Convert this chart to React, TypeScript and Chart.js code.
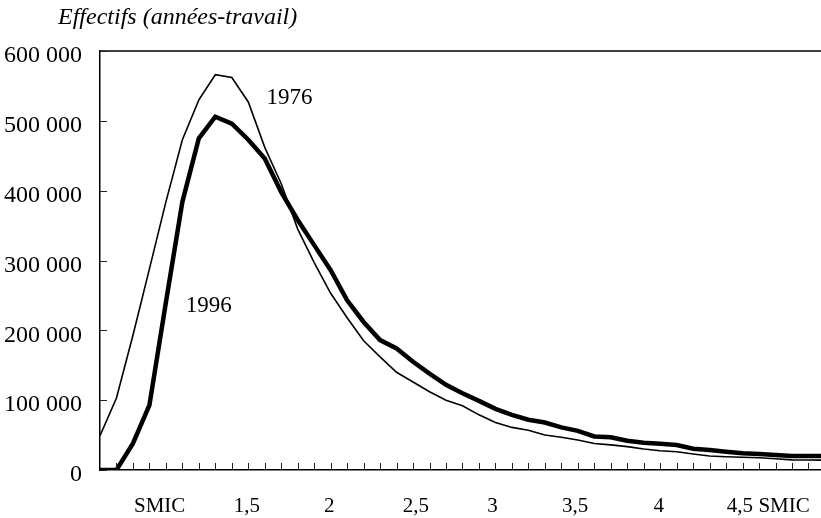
import React, { useEffect, useRef } from "react";
import { Chart, registerables } from "chart.js";

Chart.register(...registerables);

// Salaire en multiples du SMIC : une classe par pas de 0,1 SMIC
const series1976: number[] = [
  49000, 103000, 193000, 288000, 384000, 473000, 530000, 566000, 562000, 527000,
  462000, 410000, 345000, 297000, 253000, 218000, 185000, 162000, 140000, 126000,
  112000, 100000, 92000, 79000, 68000, 61000, 57000, 50000, 47000, 43000,
  38000, 36000, 33500, 30000, 27500, 26200, 23000, 20000, 19000, 18200,
  17600, 16200, 14500, 14300, 14000,
];

const series1996: number[] = [
  0, 0, 38000, 93000, 240000, 384000, 475000, 506000, 496000, 473000,
  446000, 398000, 358000, 322000, 286000, 243000, 212000, 186000, 174000, 155000,
  138000, 122000, 110000, 99000, 87500, 79000, 72000, 68000, 61000, 56000,
  48000, 47000, 42000, 39000, 37500, 35800, 30500, 28600, 26200, 24000,
  23000, 21500, 20000, 20000, 20000,
];

const xTickLabels: string[] = ["SMIC", "1,5", "2", "2,5", "3", "3,5", "4", "4,5", "SMIC"];
const xTickValues: number[] = [3.62, 8.92, 13.91, 19.17, 23.82, 28.83, 33.91, 38.83, 41.52];

const yTickValues: number[] = [0, 100000, 200000, 300000, 400000, 500000, 600000];

const titleText = "Effectifs (années-travail)";
const seriesNames: string[] = ["1976", "1996"];
// annotation anchors in data coordinates [x index, value]
const label1976: [number, number] = [10.1, 524000];
const label1996: [number, number] = [5.2, 226700];

const SERIF = "'Liberation Serif', 'Times New Roman', serif";

const decor = {
  id: "decor",
  afterDraw(chart: any) {
    const { ctx, chartArea, scales } = chart;
    const { left, right, top, bottom } = chartArea;
    const x = scales.x;
    const y = scales.y;
    ctx.save();
    // top frame line
    ctx.strokeStyle = "#000";
    ctx.lineWidth = 1.5;
    ctx.beginPath();
    ctx.moveTo(left, top);
    ctx.lineTo(right, top);
    ctx.stroke();
    // inward tick marks
    ctx.lineWidth = 1;
    ctx.strokeStyle = "#222";
    ctx.beginPath();
    for (let i = 1; i <= Math.floor(x.max); i++) {
      const px = Math.round(x.getPixelForValue(i)) + 0.5;
      ctx.moveTo(px, bottom);
      ctx.lineTo(px, bottom - 7);
    }
    for (const v of yTickValues) {
      const py = Math.round(y.getPixelForValue(v)) + 0.5;
      ctx.moveTo(left, py);
      ctx.lineTo(left + 7, py);
    }
    ctx.stroke();
    // title
    ctx.fillStyle = "#000";
    ctx.textAlign = "left";
    ctx.textBaseline = "alphabetic";
    ctx.font = "italic 24px " + SERIF;
    ctx.fillText(titleText, left - 42, top - 27);
    // series annotations
    ctx.font = "23px " + SERIF;
    ctx.fillText(seriesNames[0], x.getPixelForValue(label1976[0]), y.getPixelForValue(label1976[1]));
    ctx.fillText(seriesNames[1], x.getPixelForValue(label1996[0]), y.getPixelForValue(label1996[1]));
    ctx.restore();
  },
};

export default function App() {
  const ref = useRef<HTMLCanvasElement | null>(null);
  useEffect(() => {
    if (!ref.current) return;
    const chart = new Chart(ref.current, {
      type: "line",
      data: {
        datasets: [
          {
            label: seriesNames[0],
            data: series1976.map((v, i) => ({ x: i, y: v })),
            borderColor: "#000",
            borderWidth: 1.6,
            pointRadius: 0,
            tension: 0,
          },
          {
            label: seriesNames[1],
            data: series1996.map((v, i) => ({ x: i, y: v })),
            borderColor: "#000",
            borderWidth: 4.5,
            pointRadius: 0,
            tension: 0,
          },
        ],
      },
      options: {
        animation: false,
        responsive: false,
        devicePixelRatio: 1,
        layout: { padding: { top: 51, left: 0, right: 0, bottom: 0 } },
        plugins: { legend: { display: false }, tooltip: { enabled: false }, title: { display: false } },
        scales: {
          x: {
            type: "linear",
            min: 0,
            max: 43.76,
            grid: { display: false, drawTicks: false },
            border: { display: true, color: "#000", width: 1.5 },
            afterBuildTicks: (scale: any) => {
              scale.ticks = xTickValues.map((v) => ({ value: v }));
            },
            afterFit: (scale: any) => {
              scale.height = 48;
              scale.paddingRight = 0;
              scale.paddingLeft = 0;
            },
            ticks: {
              autoSkip: false,
              maxRotation: 0,
              minRotation: 0,
              padding: 24,
              color: "#000",
              font: { family: SERIF, size: 21 },
              callback: (_v: any, i: number) => xTickLabels[i],
            },
          },
          y: {
            min: 0,
            max: 600000,
            grid: { display: false, drawTicks: false },
            border: { display: true, color: "#000", width: 1.5 },
            afterBuildTicks: (scale: any) => {
              scale.ticks = yTickValues.map((v) => ({ value: v }));
            },
            afterFit: (scale: any) => {
              scale.width = 100;
            },
            ticks: {
              padding: 18,
              labelOffset: 5,
              color: "#000",
              font: { family: SERIF, size: 24 },
              callback: (v: any) => (v === 0 ? "0" : `${Math.round(v / 1000)} 000`),
            },
          },
        },
      },
      plugins: [decor],
    });
    return () => chart.destroy();
  }, []);
  return (
    <div style={{ position: "fixed", left: 0, top: 0, width: 821, height: 518, background: "#fff" }}>
      <canvas ref={ref} width={821} height={518} style={{ display: "block" }} />
    </div>
  );
}
